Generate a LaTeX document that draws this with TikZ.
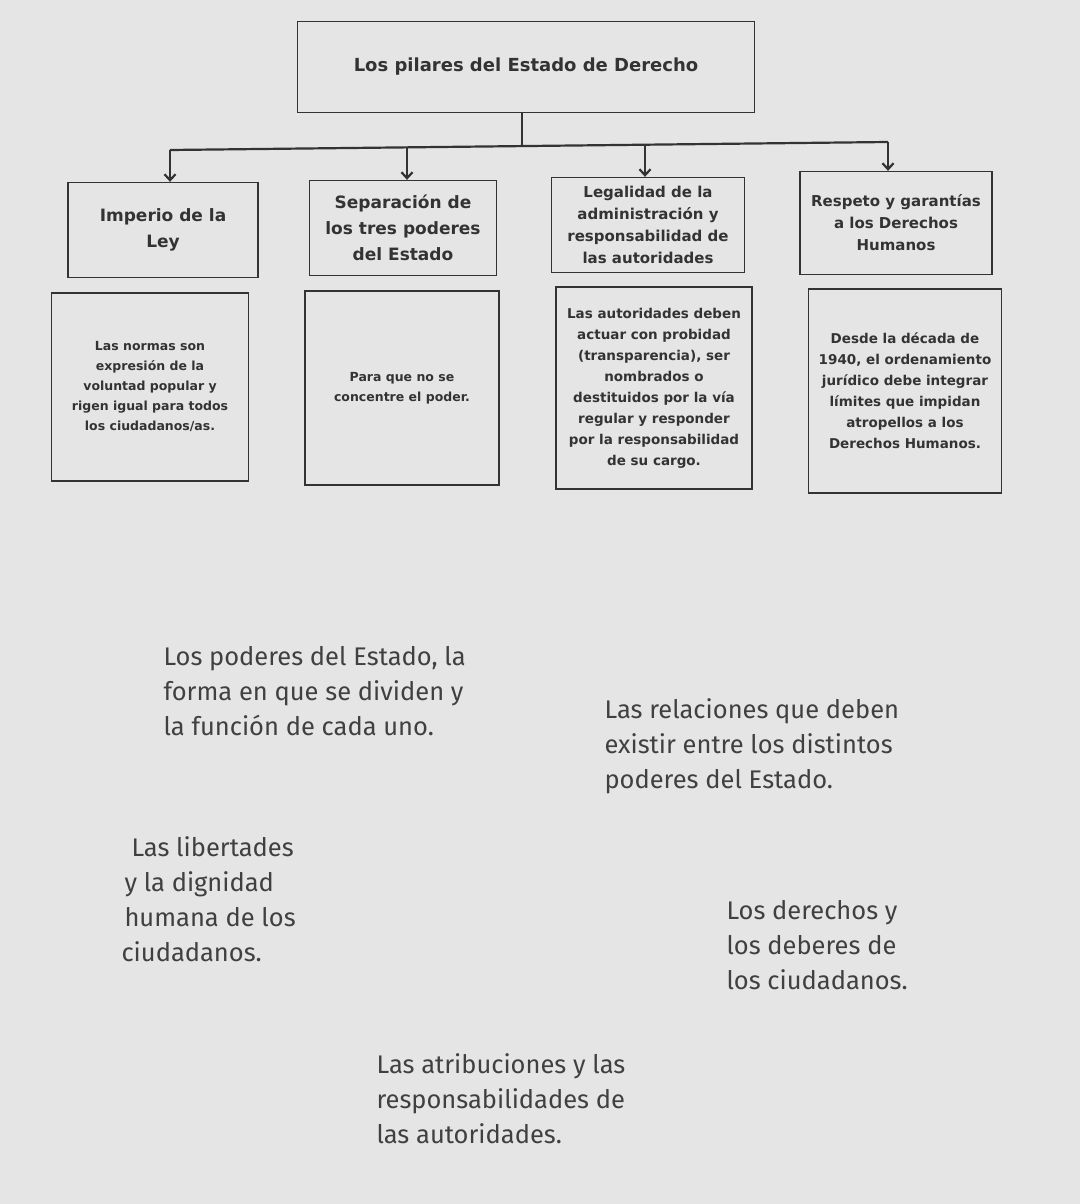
\documentclass[tikz,border=0pt]{standalone}
\usetikzlibrary{arrows.meta}
\usepackage{fontspec}
\setmainfont{DejaVu Sans}
\newfontfamily\lowfont{Fira Sans}
\begin{document}
\begin{tikzpicture}[x=1pt,y=-1pt]
\fill[black!10] (0,0) rectangle (1080,1204);
\useasboundingbox (0,0) rectangle (1080,1204);
\tikzset{
 bx/.style={draw=black!80,line width=1.3pt,inner sep=1pt,align=center,font=\bfseries,text=black!80},
 lv1/.style={bx,font=\bfseries\fontsize{17}{26}\selectfont},
 lv1s/.style={bx,font=\bfseries\fontsize{15}{22}\selectfont},
 lv2/.style={bx,font=\bfseries\fontsize{12.5}{20}\selectfont},
 lv2s/.style={bx,font=\bfseries\fontsize{13.5}{21}\selectfont},
 low/.style={anchor=north west,align=left,text=black!75,font=\lowfont\fontsize{25.5}{35}\selectfont},
 arr/.style={line width=2.2pt,draw=black!80,-{Straight Barb[length=6pt,width=11pt]}}
}
\node[bx,font=\bfseries\fontsize{18}{20}\selectfont,minimum width=457pt,minimum height=91pt] (t) at (526,67) {Los pilares del Estado de Derecho};
\node[lv1,minimum width=190pt,minimum height=95pt] (a) at (163,230) {Imperio de la\\Ley};
\node[lv1,minimum width=187pt,minimum height=95pt] (b) at (403,228) {Separación de\\los tres poderes\\del Estado};
\node[lv1s,minimum width=193pt,minimum height=95pt] (c) at (648,225) {Legalidad de la\\administración y\\responsabilidad de\\las autoridades};
\node[lv1s,minimum width=192pt,minimum height=103pt] (d) at (896,223) {Respeto y garantías\\a los Derechos\\Humanos};
\node[lv2,minimum width=197pt,minimum height=188pt] (a2) at (150,387) {Las normas son\\expresión de la\\voluntad popular y\\rigen igual para todos\\los ciudadanos/as.};
\node[lv2,minimum width=194pt,minimum height=194pt] (b2) at (402,388) {Para que no se\\concentre el poder.};
\node[lv2s,minimum width=196pt,minimum height=202pt] (c2) at (654,388) {Las autoridades deben\\actuar con probidad\\(transparencia), ser\\nombrados o\\destituidos por la vía\\regular y responder\\por la responsabilidad\\de su cargo.};
\node[lv2s,minimum width=193pt,minimum height=204pt] (d2) at (905,391) {Desde la década de\\1940, el ordenamiento\\jurídico debe integrar\\límites que impidan\\atropellos a los\\Derechos Humanos.};
\coordinate (j) at (522,145);
\coordinate (ja) at (170,150);
\coordinate (jb) at (407,147);
\coordinate (jc) at (645,144);
\coordinate (jd) at (888,142);
\draw[line width=2.2pt,black!80] (t.south -| j) -- (j);
\draw[line width=2.2pt,black!80] (ja) -- (jd);
\draw[arr] (ja) -- (ja |- a.north);
\draw[arr] (jb) -- (jb |- b.north);
\draw[arr] (jc) -- (jc |- c.north);
\draw[arr] (jd) -- (jd |- d.north);
\node[low] (l1) at (160,643) {Los poderes del Estado, la\\forma en que se dividen y\\la función de cada uno.};
\node[low] (l2) at (601,695) {Las relaciones que deben\\existir entre los distintos\\poderes del Estado.};
\node[low] (l3) at (118,833) {\hspace{10pt}Las libertades\\\hspace{3pt}y la dignidad\\\hspace{3pt}humana de los\\ciudadanos.};
\node[low] (l4) at (723,897) {Los derechos y\\los deberes de\\los ciudadanos.};
\node[low] (l5) at (373,1050) {Las atribuciones y las\\responsabilidades de\\las autoridades.};
\end{tikzpicture}
\end{document}
